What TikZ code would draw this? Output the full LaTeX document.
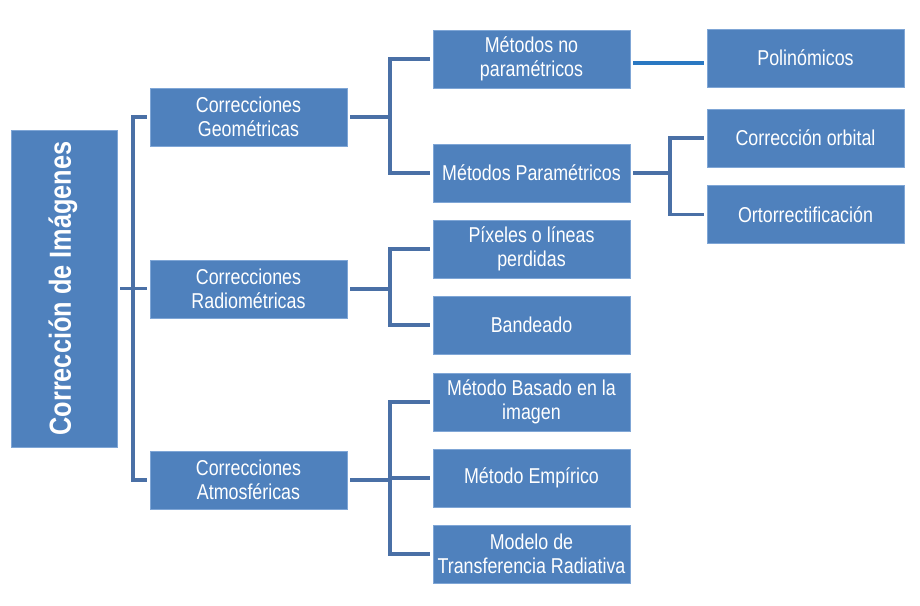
\documentclass[tikz,border=0pt]{standalone}
\usepackage{fontspec}
\setmainfont[FakeStretch=0.83]{Liberation Sans}
\definecolor{boxfill}{HTML}{4F81BD}
\definecolor{boxline}{HTML}{7FA6D6}
\definecolor{connc}{HTML}{4A70A6}
\definecolor{connb}{HTML}{2A78C2}
\begin{document}
\begin{tikzpicture}[x=1pt,y=-1pt,
  box/.style={draw=boxline, line width=0.8pt, fill=boxfill, text=white, align=center,
    minimum width=197pt, minimum height=58pt, inner sep=0pt,
    font=\fontsize{21.5}{24}\selectfont},
  mainbox/.style={draw=boxline, line width=0.8pt, fill=boxfill, text=white,
    minimum width=106pt, minimum height=317pt, inner sep=0pt},
  conn/.style={draw=connc, line width=3.2pt},
  connblue/.style={draw=connb, line width=3.2pt}]
\useasboundingbox (0,0) rectangle (920,605);
\node[mainbox] (main) at (64,288.5) {};
\node[rotate=90, text=white, font=\bfseries\fontsize{30.5}{32}\selectfont] (maintext) at (63,288.5) {Corrección de Imágenes};
\node[box] (geo) at (248.5,117) {Correcciones\\Geométricas};
\node[box] (rad) at (248.5,289) {Correcciones\\Radiométricas};
\node[box] (atm) at (248.5,480) {Correcciones\\Atmosféricas};
\node[box] (nop) at (531.5,59) {Métodos no\\paramétricos};
\node[box] (par) at (531.5,173) {Métodos Paramétricos};
\node[box] (pix) at (531.5,249) {Píxeles o líneas\\perdidas};
\node[box] (ban) at (531.5,325) {Bandeado};
\node[box] (bas) at (531.5,402) {Método Basado en la\\imagen};
\node[box] (emp) at (531.5,478) {Método Empírico};
\node[box] (mod) at (531.5,554) {Modelo de\\Transferencia Radiativa};
\node[box] (pol) at (805.5,58) {Polinómicos};
\node[box] (orb) at (805.5,138) {Corrección orbital};
\node[box] (ort) at (805.5,214.5) {Ortorrectificación};
% level 0 -> 1
\coordinate (b1) at (133,288.5);
\draw[conn] ([xshift=3pt]main.east) -- (b1);
\draw[conn] ([xshift=-3pt]geo.west) -| (b1) |- ([xshift=-3pt]atm.west);
\draw[conn] (b1) -- ([xshift=-3pt]b1 -| rad.west);
% geo -> nop, par
\coordinate (b2) at (390,117);
\draw[conn] ([xshift=3pt]geo.east) -- (b2);
\draw[conn] ([xshift=-3pt]nop.west) -| (b2) |- ([xshift=-3pt]par.west);
% rad -> pix, ban
\coordinate (b3) at (390,289);
\draw[conn] ([xshift=3pt]rad.east) -- (b3);
\draw[conn] ([xshift=-3pt]pix.west) -| (b3) |- ([xshift=-3pt]ban.west);
% atm -> bas, emp, mod
\coordinate (b4) at (390,480);
\draw[conn] ([xshift=3pt]atm.east) -- (b4);
\draw[conn] ([xshift=-3pt]bas.west) -| (b4) |- ([xshift=-3pt]mod.west);
\draw[conn] (b4 |- emp.west) -- ([xshift=-3pt]emp.west);
% par -> orb, ort
\coordinate (b5) at (670,173);
\draw[conn] ([xshift=3pt]par.east) -- (b5);
\draw[conn] ([xshift=-3pt]orb.west) -| (b5) |- ([xshift=-3pt]ort.west);
% nop -> pol
\draw[connblue] ([xshift=3pt,yshift=-4pt]nop.east) -- ([xshift=-3pt,yshift=-4pt]nop.east -| pol.west);
\end{tikzpicture}
\end{document}
